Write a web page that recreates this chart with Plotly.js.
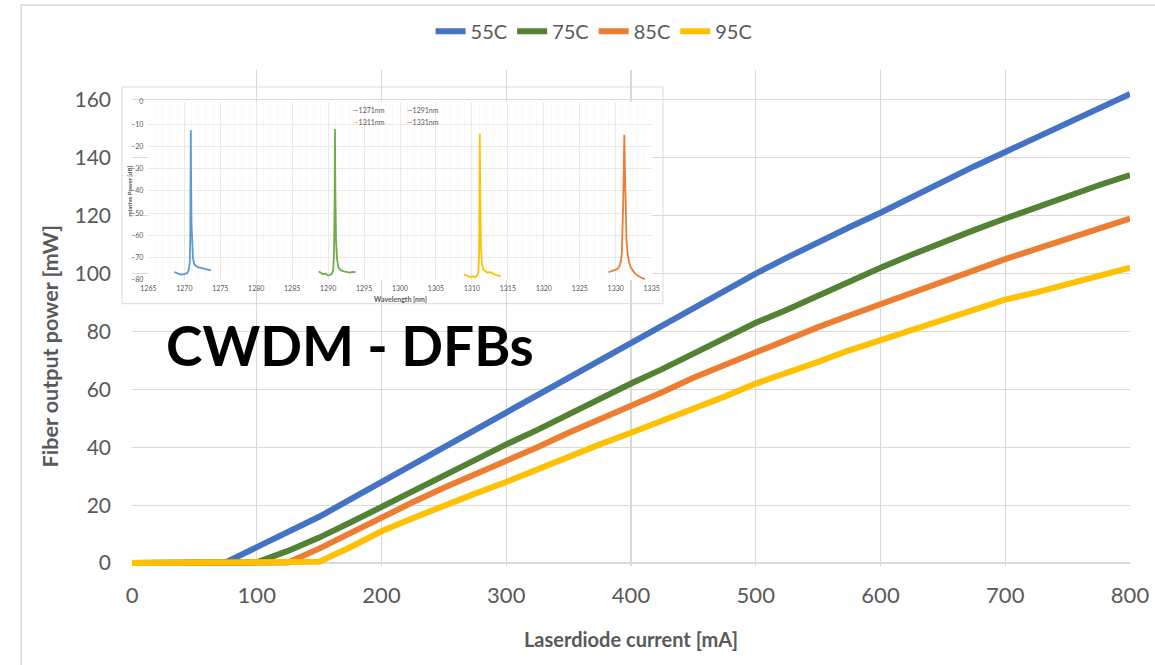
<!DOCTYPE html>
<html>
<head>
<meta charset="utf-8">
<script src="https://cdn.plot.ly/plotly-3.0.1.min.js"></script>
<style>html,body{margin:0;padding:0;background:#fff;}#chart{width:1155px;height:665px;}</style>
</head>
<body>
<div id="chart"></div>
<script>
// ---- Main chart data: fiber output power vs laser diode current ----
const current = [0,25,50,75,100,125,150,175,200,225,250,275,300,325,350,375,400,425,450,475,500,525,550,575,600,625,650,675,700,725,750,775,800];
const seriesNames = ['55C','75C','85C','95C'];
const p55 = [0,0,0,0.2,5.5,10.5,16,22,28,34,40,46,52,58,64,70,76.5,82.5,88,94,100,105.5,111,116,121,126.5,132,137,142,147,152,157,162];
const p75 = [0,0,0,0,0.3,4.2,8.8,14,19.5,25,30,35.5,41,46,51.5,56.5,62,67,72.5,77.5,83,87.5,92.5,97,102,106.5,111,115,119,123,127,130.5,134];
const p85 = [0,0,0,0,0,0.2,5,10.5,16,21,26,30.5,35,40,45,49.5,54,59,64,68.5,73,77,81.5,85.5,89.5,93.5,97.5,101.5,105,108.5,112,115.5,119];
const p95 = [0,0,0,0,0,0,0.5,5.5,11,15.5,20,24,28,32.5,37,41,45,49,53,57.5,62,65.5,69.5,73.5,77,80.5,84,87.5,91,93.5,96.5,99.5,102];
const yTicks = [0,20,40,60,80,100,120,140,160];

// ---- Inset data: optical spectra ----
const specNames = ['1271nm','1291nm','1311nm','1331nm'];
const wl1 = [1268.6,1268.9,1269.2,1269.5,1269.8,1270.1,1270.4,1270.6,1270.75,1270.82,1270.87,1270.9,1270.94,1271.0,1271.08,1271.2,1271.35,1271.6,1271.9,1272.3,1272.7,1273.1,1273.5,1273.7];
const dB1 = [-76.5,-76.8,-77.2,-77.6,-77.5,-77.3,-77.0,-75.8,-72,-62,-40,-12.7,-35,-55,-65,-70,-72.8,-73.8,-74.3,-74.7,-75.0,-75.3,-75.6,-75.5];
const wl2 = [1288.7,1289.0,1289.3,1289.6,1289.9,1290.2,1290.5,1290.7,1290.82,1290.9,1290.95,1291.0,1291.1,1291.25,1291.45,1291.8,1292.2,1292.6,1293.0,1293.4,1293.8];
const dB2 = [-76.3,-77.0,-77.5,-77.2,-77.9,-78.0,-77.3,-75.8,-68,-45,-12.2,-38,-62,-71,-74.5,-75.8,-76.2,-76.5,-76.8,-76.4,-76.6];
const wl3 = [1308.9,1309.2,1309.5,1309.8,1310.1,1310.4,1310.7,1310.9,1311.0,1311.06,1311.1,1311.15,1311.25,1311.4,1311.6,1311.9,1312.2,1312.5,1312.8,1313.1,1313.4,1313.7,1314.0];
const dB3 = [-77.6,-78.0,-78.5,-78.8,-78.4,-78.9,-78.3,-76.5,-68,-45,-14.3,-40,-65,-73,-75.5,-76.2,-76.8,-76.5,-77.2,-77.5,-77.9,-78.1,-78.3];
const wl4 = [1329.0,1329.3,1329.6,1329.9,1330.2,1330.5,1330.7,1330.85,1330.95,1331.05,1331.12,1331.2,1331.28,1331.38,1331.5,1331.65,1331.85,1332.1,1332.4,1332.7,1333.0,1333.3,1333.6,1333.9,1334.1];
const dB4 = [-76.6,-76.3,-76.0,-75.7,-75.2,-74.0,-72.0,-68,-60,-45,-30,-14.8,-30,-50,-62,-68,-72,-74.5,-76,-77.2,-78,-78.7,-79.2,-79.5,-79.8];

const mainColors = ['#4472C4','#548235','#ED7D31','#FFC000'];
const specColors = ['#5B9BD5','#70AD47','#FFC000','#ED7D31'];
const FONT = 'Lato, "Open Sans", sans-serif';
const GREY = '#595959';

const mainY = [p55,p75,p85,p95];
const traces = mainY.map((y,i)=>({
  x: current, y: y, name: seriesNames[i], type:'scatter', mode:'lines',
  line:{color:mainColors[i], width:6}, xaxis:'x', yaxis:'y'
}));
const specX = [wl1,wl2,wl3,wl4], specY=[dB1,dB2,dB3,dB4];
specX.forEach((x,i)=>traces.push({
  x:x, y:specY[i], name:specNames[i], type:'scatter', mode:'lines',
  line:{color:specColors[i], width:1.8}, xaxis:'x3', yaxis:'y3', showlegend:false
}));

function legItem(i){
  return '<span style="color:'+specColors[i]+'"><b>—</b></span>'+specNames[i];
}

const layout = {
  width:1155, height:665,
  margin:{l:132, r:25, t:67, b:99},
  paper_bgcolor:'#ffffff', plot_bgcolor:'#ffffff',
  font:{family:FONT, color:GREY},
  showlegend:true,
  legend:{orientation:'h', x:0.463, xanchor:'center', y:1.078, yanchor:'middle',
          font:{size:20, color:GREY, family:FONT}, bgcolor:'rgba(0,0,0,0)'},
  xaxis:{domain:[0,1], range:[0,800], dtick:100, tick0:0, showgrid:true, gridcolor:'#d9d9d9', gridwidth:1.3,
         zeroline:false, showline:false, ticks:'', ticklabelstandoff:14,
         tickfont:{size:22, color:GREY, family:FONT},
         title:{text:'Laserdiode current [mA]', font:{size:20, color:GREY, family:FONT, weight:'bold'}, standoff:25}},
  yaxis:{domain:[0,1], range:[-1,170.3], tickvals:yTicks, showgrid:true, gridcolor:'#d9d9d9', gridwidth:1.3,
         zeroline:true, zerolinecolor:'#d9d9d9', zerolinewidth:1.3, showline:false, ticks:'', ticklabelstandoff:20,
         tickfont:{size:21, color:GREY, family:FONT}},
  // blank panel behind the inset
  xaxis2:{domain:[0,0.532], anchor:'y2', range:[0,1], showgrid:false, zeroline:false, showticklabels:false, showline:false, ticks:''},
  yaxis2:{domain:[0.5289,0.9657], anchor:'x2', range:[0,1], showgrid:false, zeroline:false, showticklabels:false, showline:false, ticks:''},
  // inset spectrum axes
  xaxis3:{domain:[0.01643,0.5207], anchor:'y3', range:[1265,1335], dtick:5, tick0:1265, showgrid:true, gridcolor:'#e3e3e3', gridwidth:0.8,
          minor:{dtick:1, showgrid:true, gridcolor:'#f3f3f3', gridwidth:0.6},
          zeroline:false, showline:false, ticks:'', ticklabelstandoff:3,
          tickfont:{size:7, color:GREY, family:FONT}},
  yaxis3:{domain:[0.5770,0.9357], anchor:'x3', range:[-80,0], dtick:10, showgrid:true, gridcolor:'#e3e3e3', gridwidth:0.8,
          zeroline:false, showline:false, ticks:'', ticklabelstandoff:4,
          tickfont:{size:7, color:GREY, family:FONT}},
  shapes:[
    {type:'rect', xref:'paper', yref:'paper', x0:-0.01, x1:0.532, y0:0.5289, y1:0.9657,
     line:{color:'#d9d9d9', width:1}, fillcolor:'rgba(0,0,0,0)', layer:'above'},
    {type:'rect', xref:'paper', yref:'paper', x0:-0.1112, x1:1.03, y0:-0.21, y1:1.1311,
     line:{color:'#d9d9d9', width:1.5}, fillcolor:'rgba(0,0,0,0)', layer:'below'}
  ],
  annotations:[
    {text:'<b>Fiber output power [mW]</b>', xref:'paper', yref:'paper', x:-0.0822, y:0.4427,
     xanchor:'center', yanchor:'middle', textangle:-90, showarrow:false, font:{size:21.5, color:GREY, family:FONT}},
    {text:'<b>CWDM - DFBs</b>', xref:'paper', yref:'paper', x:0.2184, y:0.4447,
     xanchor:'center', yanchor:'middle', showarrow:false, font:{size:55, color:'#000000', family:FONT}},
    {text:'<b>relative Power [dB]</b>', xref:'paper', yref:'paper', x:-0.0022, y:0.7565,
     xanchor:'center', yanchor:'middle', textangle:-90, showarrow:false, font:{size:6, color:GREY, family:FONT}},
    {text:'<b>Wavelength [nm]</b>', xref:'paper', yref:'paper', x:0.2691, y:0.5391,
     xanchor:'center', yanchor:'middle', showarrow:false, font:{size:7, color:GREY, family:FONT}},
    {text:legItem(0), xref:'paper', yref:'paper', x:0.2194, y:0.9197, xanchor:'left', yanchor:'middle', showarrow:false, font:{size:7, color:GREY, family:FONT}},
    {text:legItem(1), xref:'paper', yref:'paper', x:0.2735, y:0.9197, xanchor:'left', yanchor:'middle', showarrow:false, font:{size:7, color:GREY, family:FONT}},
    {text:legItem(2), xref:'paper', yref:'paper', x:0.2194, y:0.8956, xanchor:'left', yanchor:'middle', showarrow:false, font:{size:7, color:GREY, family:FONT}},
    {text:legItem(3), xref:'paper', yref:'paper', x:0.2735, y:0.8956, xanchor:'left', yanchor:'middle', showarrow:false, font:{size:7, color:GREY, family:FONT}}
  ]
};

Plotly.newPlot('chart', traces, layout, {displayModeBar:false, staticPlot:true});
</script>
</body>
</html>
